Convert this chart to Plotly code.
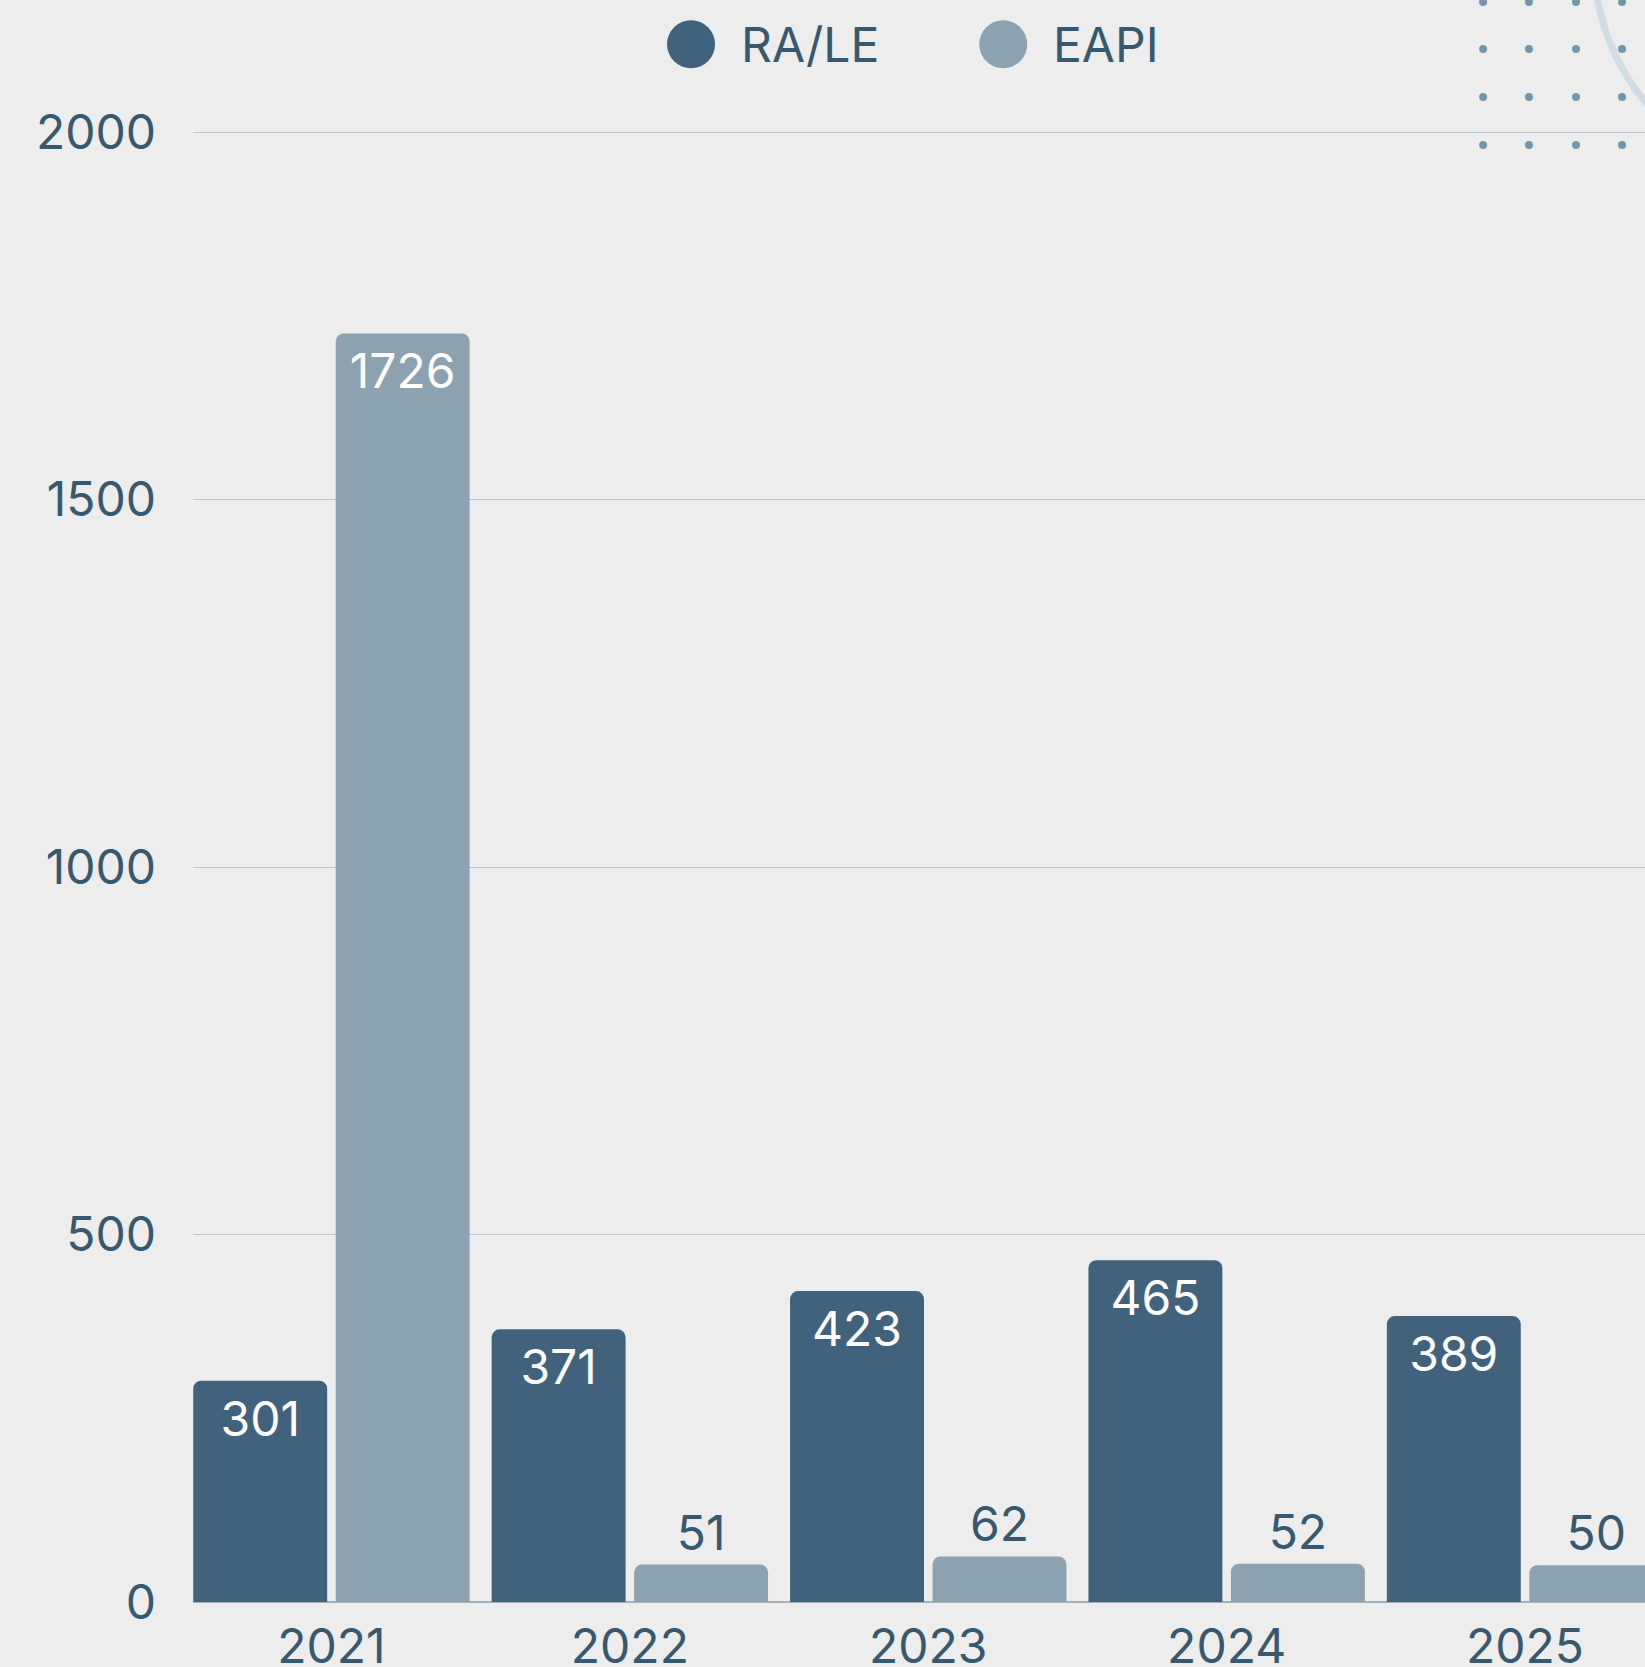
import plotly.graph_objects as go

years = ['2021', '2022', '2023', '2024', '2025']
ra_le = [301, 371, 423, 465, 389]
eapi = [1726, 51, 62, 52, 50]
series_names = ['RA/LE', 'EAPI']
y_ticks = [0, 500, 1000, 1500, 2000]

DARK = '#41627c'
LIGHT = '#8ca2b0'
TEXT = '#37586f'
FONT = 'Inter, Open Sans, sans-serif'
FSIZE = 48

fig = go.Figure()

for name, vals, color in [(series_names[0], ra_le, DARK), (series_names[1], eapi, LIGHT)]:
    fig.add_trace(go.Bar(
        x=years,
        y=vals,
        name=name,
        marker=dict(color=color, cornerradius=8, line=dict(width=0)),
        text=[str(v) for v in vals],
        textposition='auto',
        insidetextanchor='end',
        insidetextfont=dict(color='white', size=FSIZE, family=FONT),
        outsidetextfont=dict(color=TEXT, size=FSIZE, family=FONT),
        constraintext='none',
        cliponaxis=False,
        showlegend=False,
        hoverinfo='skip',
    ))

# legend drawn by hand so the circles can be large
legend_items = [
    (series_names[0], DARK, 0.343, 0.3757),
    (series_names[1], LIGHT, 0.558, 0.591),
]
shapes = []
annotations = []
for name, color, cx, tx in legend_items:
    shapes.append(dict(
        type='circle', xref='paper', yref='paper',
        xsizemode='pixel', ysizemode='pixel',
        xanchor=cx, yanchor=1.059,
        x0=-24, x1=24, y0=-24, y1=24,
        fillcolor=color, line=dict(width=0),
    ))
    annotations.append(dict(
        text=name, xref='paper', yref='paper', x=tx, y=1.059,
        xanchor='left', yanchor='middle', showarrow=False,
        font=dict(size=FSIZE, color=TEXT, family=FONT),
    ))

# decorative dot grid and arc, top right
dot_x = [0.8885, 0.9201, 0.9525, 0.9842]
dot_y = [1.0877, 1.0558, 1.0231, 0.9905]
for dx in dot_x:
    for dy in dot_y:
        shapes.append(dict(
            type='circle', xref='paper', yref='paper',
            xsizemode='pixel', ysizemode='pixel',
            xanchor=dx, yanchor=dy,
            x0=-4, x1=4, y0=-4, y1=4,
            fillcolor='#7396ad', line=dict(width=0),
        ))
shapes.append(dict(
    type='circle', xref='paper', yref='paper',
    x0=0.965, x1=1.271, y0=0.965, y1=1.267,
    line=dict(color='#d3dce3', width=7), fillcolor='rgba(0,0,0,0)',
))

fig.update_layout(
    width=1645,
    height=1667,
    margin=dict(l=192.5, r=0, t=131, b=64.5, pad=0),
    paper_bgcolor='#ededed',
    plot_bgcolor='rgba(0,0,0,0)',
    barmode='group',
    bargap=0.045,
    bargroupgap=0.06,
    font=dict(family=FONT, color=TEXT, size=FSIZE),
    shapes=shapes,
    annotations=annotations,
    xaxis=dict(
        type='category',
        range=[-0.464, 4.402],
        automargin=False,
        showgrid=False,
        showline=False,
        ticks='',
        ticklabelstandoff=12,
        tickfont=dict(size=FSIZE, color=TEXT, family=FONT),
        fixedrange=True,
    ),
    yaxis=dict(
        range=[0, 2001.5],
        automargin=False,
        tickvals=y_ticks,
        showgrid=True,
        gridcolor='#bcc7d0',
        gridwidth=1,
        zeroline=True,
        zerolinecolor='#a9b0b5',
        zerolinewidth=2,
        showline=False,
        ticks='',
        ticklabelstandoff=36,
        tickfont=dict(size=FSIZE, color=TEXT, family=FONT),
        fixedrange=True,
    ),
)

fig.write_html(
    'out.html',
    config={'displayModeBar': False},
    post_script="document.body.style.margin='0';document.body.style.overflow='hidden';",
)
